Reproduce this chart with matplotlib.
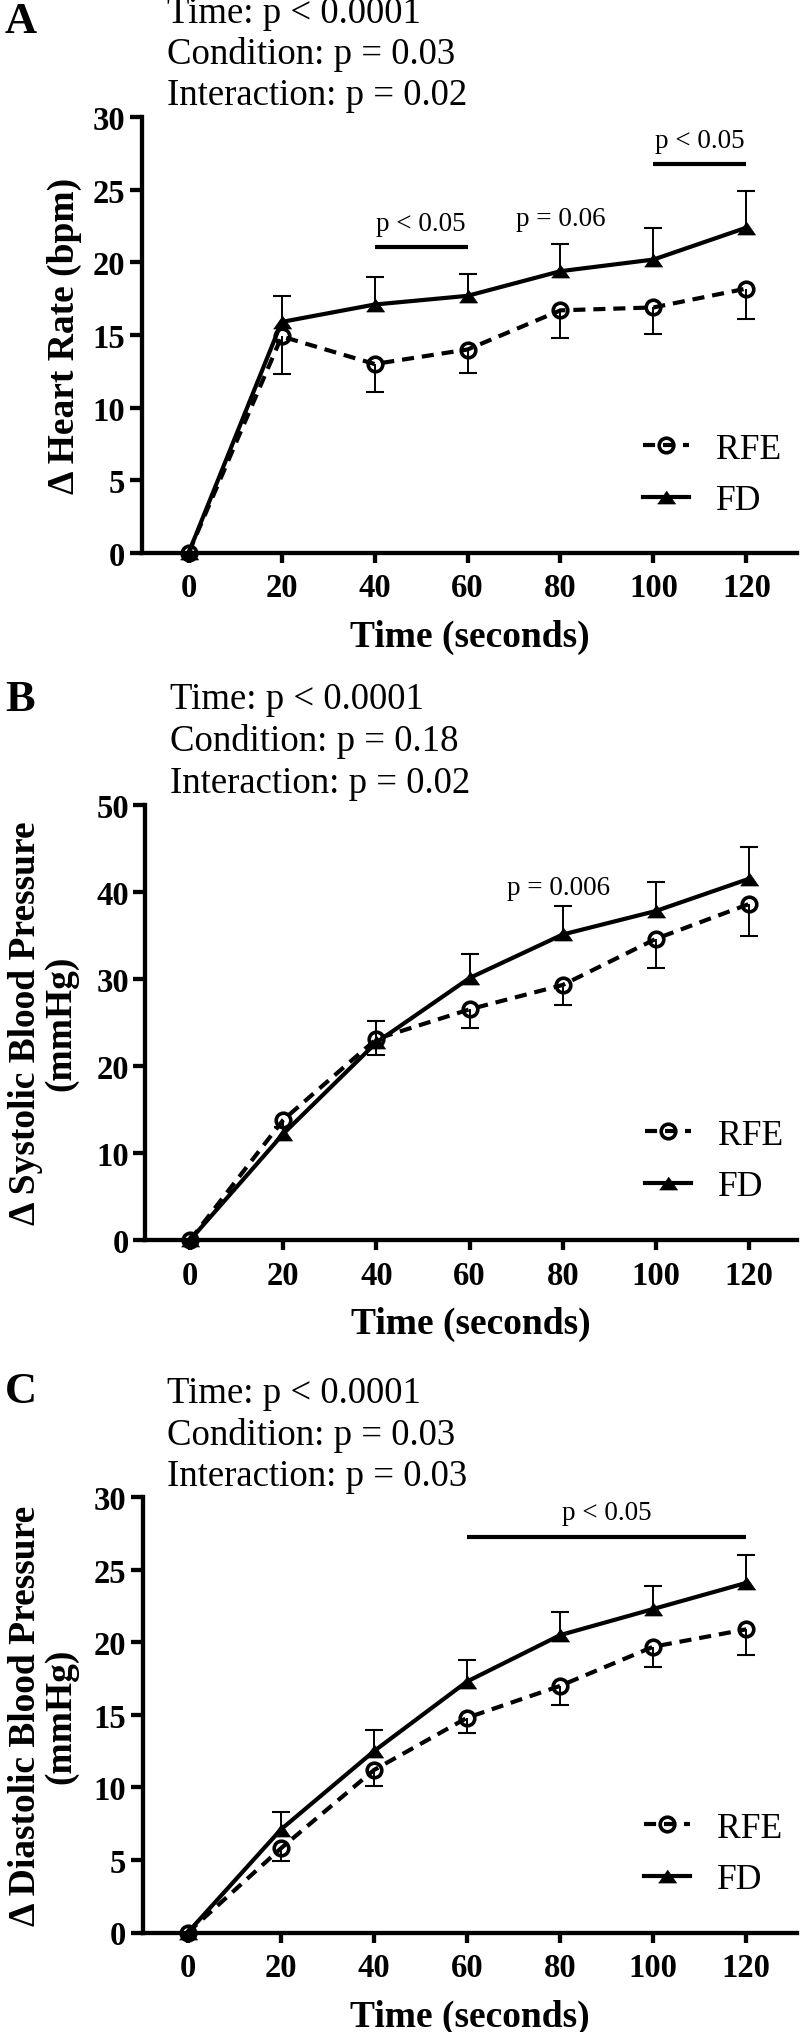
import numpy as np
import matplotlib
matplotlib.use("Agg")
import matplotlib.pyplot as plt

plt.rcParams['font.family'] = ['Liberation Serif', 'DejaVu Serif']
plt.rcParams['axes.unicode_minus'] = False

# ---------------- data ----------------
time = [0, 20, 40, 60, 80, 100, 120]
xticks = [0, 20, 40, 60, 80, 100, 120]

hr_rfe = [0, 14.9, 13.0, 14.0, 16.7, 16.9, 18.2]
hr_rfe_err = [0, 2.6, 1.9, 1.6, 1.9, 1.8, 2.1]
hr_fd = [0, 15.9, 17.1, 17.7, 19.4, 20.2, 22.4]
hr_fd_err = [0, 1.8, 1.9, 1.5, 1.9, 2.2, 2.5]

sbp_rfe = [0, 13.8, 23.1, 26.5, 29.3, 34.6, 38.6]
sbp_rfe_err = [0, 0.8, 1.9, 2.1, 2.3, 3.3, 3.7]
sbp_fd = [0, 12.2, 22.7, 30.1, 35.1, 37.8, 41.5]
sbp_fd_err = [0, 0.8, 2.5, 2.8, 3.3, 3.3, 3.6]

dbp_rfe = [0, 5.8, 11.2, 14.8, 17.0, 19.7, 20.9]
dbp_rfe_err = [0, 0.9, 1.1, 1.05, 1.35, 1.4, 1.8]
dbp_fd = [0, 7.1, 12.5, 17.3, 20.5, 22.3, 24.1]
dbp_fd_err = [0, 1.2, 1.45, 1.5, 1.6, 1.6, 1.9]

letters = ['A', 'B', 'C']
ylabels = ['\u0394 Heart Rate (bpm)',
           '\u0394 Systolic Blood Pressure\n(mmHg)',
           '\u0394 Diastolic Blood Pressure\n(mmHg)']
stats_A = ['Time: p < 0.0001', 'Condition: p = 0.03', 'Interaction: p = 0.02']
stats_B = ['Time: p < 0.0001', 'Condition: p = 0.18', 'Interaction: p = 0.02']
stats_C = ['Time: p < 0.0001', 'Condition: p = 0.03', 'Interaction: p = 0.03']
yticks_A = [0, 5, 10, 15, 20, 25, 30]
yticks_B = [0, 10, 20, 30, 40, 50]
yticks_C = [0, 5, 10, 15, 20, 25, 30]
series_names = ['RFE', 'FD']

# significance annotations: (x_start, x_end, bar_y or None, text, text_x, text_y)
sig_A = [(40, 60, 21.1, 'p < 0.05', 50, 22.7),
         (None, None, None, 'p = 0.06', 80, 23.0),
         (100, 120, 26.8, 'p < 0.05', 110, 28.4)]
sig_B = [(None, None, None, 'p = 0.006', 79, 40.5)]
sig_C = [(60, 120, 27.25, 'p < 0.05', 90, 28.95)]

# ---------------- layout (pixels) ----------------
W, H = 800, 2033
fig = plt.figure(figsize=(W / 100, H / 100), dpi=100)

layout = [
    dict(left=141.8, right=797, top=118.4, bottom=553.6, xlim=(-10.1, 130.9),
         letter_y=22, head_x=167, head_y=[14, 55, 96], ylab_x=64, leg=(0.765, 0.178)),
    dict(left=145.4, right=797, top=805.8, bottom=1241, xlim=(-9.6, 130.3),
         letter_y=700, head_x=170, head_y=[700, 742, 784], ylab_x=43.5, leg=(0.767, 0.182)),
    dict(left=142.9, right=797, top=1498.3, bottom=1933.5, xlim=(-9.65, 130.9),
         letter_y=1392, head_x=167, head_y=[1394, 1436, 1477], ylab_x=43.5, leg=(0.766, 0.18)),
]

panels = [
    (hr_rfe, hr_rfe_err, hr_fd, hr_fd_err, yticks_A, stats_A, sig_A),
    (sbp_rfe, sbp_rfe_err, sbp_fd, sbp_fd_err, yticks_B, stats_B, sig_B),
    (dbp_rfe, dbp_rfe_err, dbp_fd, dbp_fd_err, yticks_C, stats_C, sig_C),
]

tri = [(-1, -0.72), (1, -0.72), (0, 0.72)]
LW = 3.0
SPINE = 3.1

for i, (rfe, rfe_e, fd, fd_e, yt, stats, sigs) in enumerate(panels):
    L = layout[i]
    rect = [L['left'] / W, 1 - L['bottom'] / H,
            (L['right'] - L['left']) / W, (L['bottom'] - L['top']) / H]
    ax = fig.add_axes(rect)
    t = np.array(time, dtype=float)
    r = np.array(rfe); re_ = np.array(rfe_e)
    f = np.array(fd); fe = np.array(fd_e)

    # error bars (one-sided)
    ax.vlines(t, r - re_, r, colors='black', linewidth=1.4, zorder=2)
    ax.plot(t, r - re_, linestyle='none', marker='_', markersize=12.5,
            markeredgewidth=1.5, color='black', zorder=2, clip_on=False)
    ax.vlines(t, f, f + fe, colors='black', linewidth=1.4, zorder=2)
    ax.plot(t, f + fe, linestyle='none', marker='_', markersize=12.5,
            markeredgewidth=1.5, color='black', zorder=2, clip_on=False)

    ax.plot(t, r, color='black', linewidth=LW, linestyle=(0, (2.9, 1.9)),
            marker='o', markersize=10.5, markerfacecolor='none',
            markeredgewidth=2.6, markeredgecolor='black',
            label=series_names[0], zorder=3, clip_on=False)
    ax.plot(t, f, color='black', linewidth=LW, linestyle='-',
            marker=tri, markersize=13, markerfacecolor='black',
            markeredgewidth=0.5, label=series_names[1], zorder=4, clip_on=False)

    ax.set_xlim(*L['xlim'])
    ax.set_ylim(yt[0], yt[-1])
    ax.set_xticks(xticks)
    ax.set_yticks(yt)
    for s in ['top', 'right']:
        ax.spines[s].set_visible(False)
    for s in ['left', 'bottom']:
        ax.spines[s].set_linewidth(SPINE)
    ax.tick_params(axis='y', direction='out', length=8.4, width=SPINE, pad=3.5,
                   labelsize=23.5)
    ax.tick_params(axis='x', direction='out', length=7.2, width=SPINE, pad=7,
                   labelsize=23.5)
    for lab in ax.get_xticklabels() + ax.get_yticklabels():
        lab.set_fontweight('bold')

    ax.set_xlabel('Time (seconds)', fontsize=27, fontweight='bold', labelpad=11)
    ax.set_ylabel(ylabels[i], fontsize=27, fontweight='bold', va='center',
                  linespacing=1.0)
    ax.yaxis.set_label_coords((L['ylab_x'] - L['left']) / (L['right'] - L['left']), 0.5)

    for (xs, xe, by, txt, tx, ty) in sigs:
        if xs is not None:
            ax.plot([xs, xe], [by, by], color='black', linewidth=3.0,
                    solid_capstyle='butt', clip_on=False)
        ax.text(tx, ty, txt, fontsize=19.5, ha='center', va='center')

    leg = ax.legend(loc='center left', bbox_to_anchor=L['leg'], frameon=False,
                    fontsize=25.6, handlelength=1.3, handletextpad=0.75,
                    labelspacing=0.52, borderpad=0, borderaxespad=0)

    fig.text(5 / W, 1 - L['letter_y'] / H, letters[i], fontsize=32,
             fontweight='bold', ha='left', va='center')
    for k, line in enumerate(stats):
        fig.text(L['head_x'] / W, 1 - L['head_y'][k] / H, line, fontsize=26.5,
                 ha='left', va='center')

fig.savefig('out.png', dpi=100)
